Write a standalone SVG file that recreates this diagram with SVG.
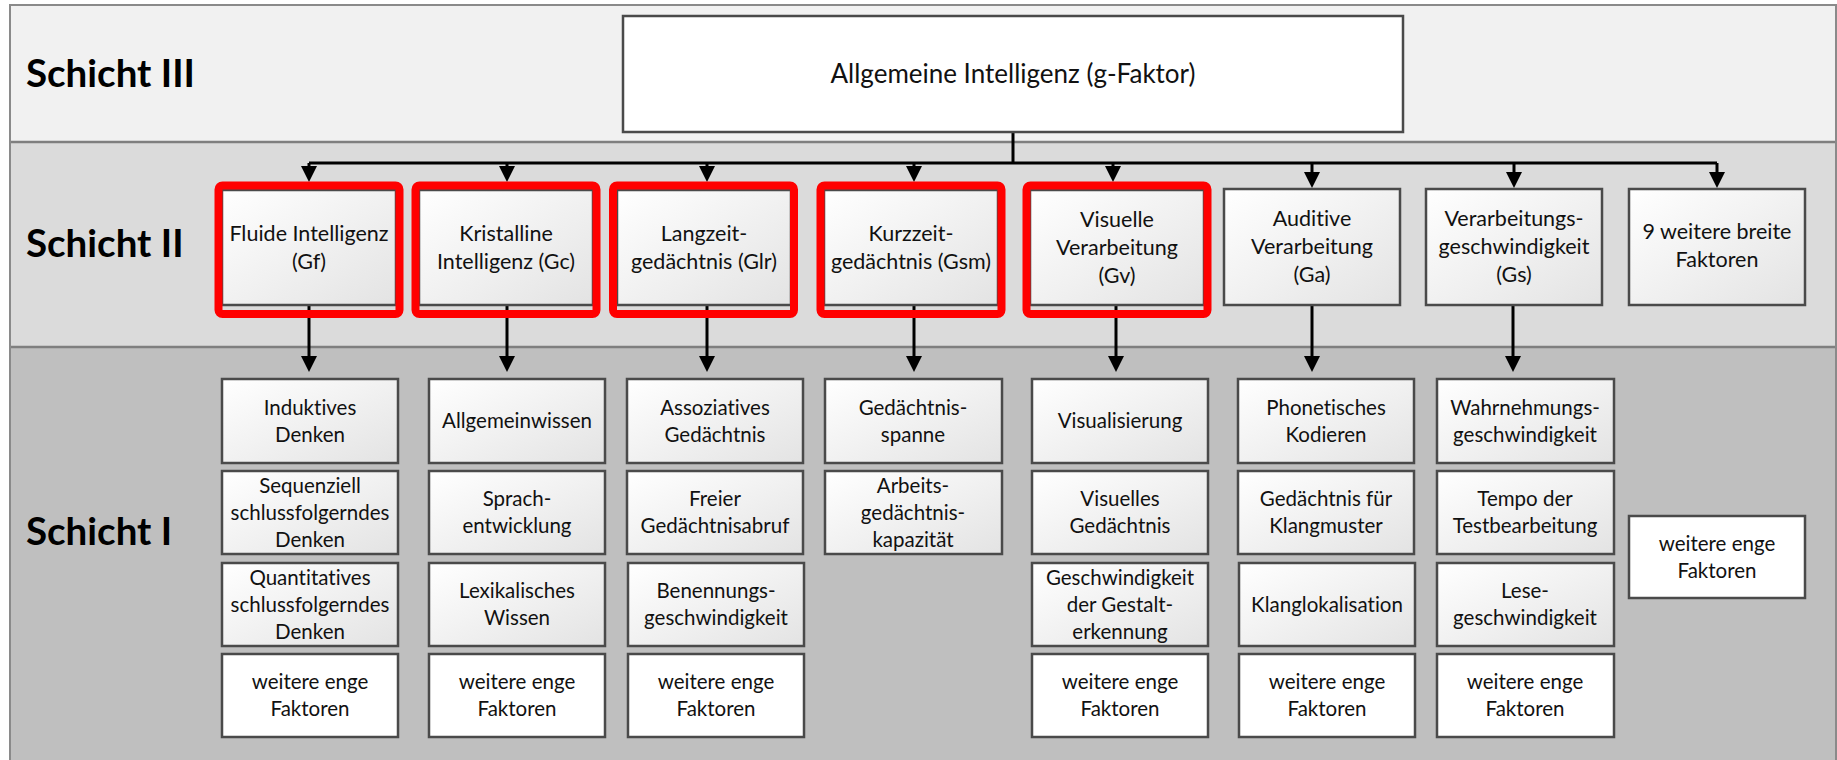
<svg xmlns="http://www.w3.org/2000/svg" width="1837" height="760" viewBox="0 0 1837 760">
<defs>
<style>
text{font-variant-ligatures:none;font-feature-settings:"liga" 0,"dlig" 0}
.lbl{font-family:Lato,"Liberation Sans",sans-serif;font-weight:bold;font-size:38.5px;fill:#000}
.t{font-family:Lato,"Liberation Sans",sans-serif;font-size:20.5px;fill:#111;text-anchor:middle}
.t2{font-family:Lato,"Liberation Sans",sans-serif;font-size:21.5px;fill:#111;text-anchor:middle}
.tt{font-family:Lato,"Liberation Sans",sans-serif;font-size:26px;fill:#111;text-anchor:middle}
.g{fill:url(#grad);stroke:#4a4a4a;stroke-width:2.5}
.w{fill:#fff;stroke:#4a4a4a;stroke-width:2.5}
.red{fill:none;stroke:#ff0000;stroke-width:8}
.c{fill:none;stroke:#000;stroke-width:3}
.a{fill:none;stroke:#000;stroke-width:3;marker-end:url(#arr)}
.sep{stroke:#7f7f7f;stroke-width:2.5}
</style>
<linearGradient id="grad" x1="0" y1="0" x2="1" y2="1">
<stop offset="0" stop-color="#ffffff"/>
<stop offset="1" stop-color="#e3e3e3"/>
</linearGradient>
<marker id="arr" viewBox="0 0 16 16" refX="6" refY="8" markerWidth="16" markerHeight="16" markerUnits="userSpaceOnUse" orient="auto">
<path d="M0,0 L16,8 L0,16 z" fill="#000"/>
</marker>
</defs>

<g id="bands">
<rect x="10" y="5" width="1826" height="137" fill="#f1f1f1"/>
<rect x="10" y="142" width="1826" height="205" fill="#dbdbdb"/>
<rect x="10" y="347" width="1826" height="420" fill="#bfbfbf"/>
<line class="sep" x1="10" y1="142" x2="1836" y2="142"/>
<line class="sep" x1="10" y1="347" x2="1836" y2="347"/>
<rect x="10" y="5" width="1826" height="770" fill="none" stroke="#8a8a8a" stroke-width="2"/>
<text class="lbl" x="26" y="87">Schicht III</text>
<text class="lbl" x="26" y="257">Schicht II</text>
<text class="lbl" x="26" y="545">Schicht I</text>
</g>

<g id="connectors">
<path class="c" d="M1013,132 V163 M309,163 H1717"/>
<path class="a" d="M309,163 V172"/>
<path class="a" d="M507,163 V172"/>
<path class="a" d="M707,163 V172"/>
<path class="a" d="M914,163 V172"/>
<path class="a" d="M1113,163 V172"/>
<path class="a" d="M1312,163 V178"/>
<path class="a" d="M1514,163 V178"/>
<path class="a" d="M1717,163 V178"/>
<path class="a" d="M309,305 V362"/>
<path class="a" d="M507,305 V362"/>
<path class="a" d="M707,305 V362"/>
<path class="a" d="M914,305 V362"/>
<path class="a" d="M1116,305 V362"/>
<path class="a" d="M1312,305 V362"/>
<path class="a" d="M1513,305 V362"/>
</g>

<g id="g-faktor">
<rect class="w" x="623" y="16" width="780" height="116"/>
<text class="tt" x="1013" y="83">Allgemeine Intelligenz (g-Faktor)</text>
</g>

<g id="gf">
<rect class="g" x="222" y="190" width="174" height="115"/>
<rect class="red" x="218.5" y="185.5" width="181" height="128.5" rx="4"/>
<text class="t2"><tspan x="309" y="241">Fluide Intelligenz</tspan><tspan x="309" y="269">(Gf)</tspan></text>
</g>
<g id="gc">
<rect class="g" x="419" y="190" width="174" height="115"/>
<rect class="red" x="415.5" y="185.5" width="181" height="128.5" rx="4"/>
<text class="t2"><tspan x="506" y="241">Kristalline</tspan><tspan x="506" y="269">Intelligenz (Gc)</tspan></text>
</g>
<g id="glr">
<rect class="g" x="617" y="190" width="174" height="115"/>
<rect class="red" x="613" y="185.5" width="181" height="128.5" rx="4"/>
<text class="t2"><tspan x="704" y="241">Langzeit-</tspan><tspan x="704" y="269">gedächtnis (Glr)</tspan></text>
</g>
<g id="gsm">
<rect class="g" x="824" y="190" width="174" height="115"/>
<rect class="red" x="820.5" y="185.5" width="181" height="128.5" rx="4"/>
<text class="t2"><tspan x="911" y="241">Kurzzeit-</tspan><tspan x="911" y="269">gedächtnis (Gsm)</tspan></text>
</g>
<g id="gv">
<rect class="g" x="1030" y="190" width="174" height="115"/>
<rect class="red" x="1026.5" y="185.5" width="181" height="128.5" rx="4"/>
<text class="t2"><tspan x="1117" y="227">Visuelle</tspan><tspan x="1117" y="255">Verarbeitung</tspan><tspan x="1117" y="283">(Gv)</tspan></text>
</g>
<g id="ga">
<rect class="g" x="1224" y="189" width="176" height="116"/>
<text class="t2"><tspan x="1312" y="226">Auditive</tspan><tspan x="1312" y="254">Verarbeitung</tspan><tspan x="1312" y="282">(Ga)</tspan></text>
</g>
<g id="gs">
<rect class="g" x="1426" y="189" width="176" height="116"/>
<text class="t2"><tspan x="1514" y="226">Verarbeitungs-</tspan><tspan x="1514" y="254">geschwindigkeit</tspan><tspan x="1514" y="282">(Gs)</tspan></text>
</g>
<g id="weitere-breit">
<rect class="g" x="1629" y="189" width="176" height="116"/>
<text class="t2"><tspan x="1717" y="239">9 weitere breite</tspan><tspan x="1717" y="267">Faktoren</tspan></text>
</g>

<g id="gf-1"><rect class="g" x="222" y="379" width="176" height="84"/><text class="t"><tspan x="310" y="414.5">Induktives</tspan><tspan x="310" y="441.5">Denken</tspan></text></g>
<g id="gf-2"><rect class="g" x="222" y="471" width="176" height="83"/><text class="t"><tspan x="310" y="492.5">Sequenziell</tspan><tspan x="310" y="519.5">schlussfolgerndes</tspan><tspan x="310" y="546.5">Denken</tspan></text></g>
<g id="gf-3"><rect class="g" x="222" y="563" width="176" height="83"/><text class="t"><tspan x="310" y="584.5">Quantitatives</tspan><tspan x="310" y="611.5">schlussfolgerndes</tspan><tspan x="310" y="638.5">Denken</tspan></text></g>
<g id="gf-4"><rect class="w" x="222" y="654" width="176" height="83"/><text class="t"><tspan x="310" y="689">weitere enge</tspan><tspan x="310" y="716">Faktoren</tspan></text></g>

<g id="gc-1"><rect class="g" x="429" y="379" width="176" height="84"/><text class="t"><tspan x="517" y="428">Allgemeinwissen</tspan></text></g>
<g id="gc-2"><rect class="g" x="429" y="471" width="176" height="83"/><text class="t"><tspan x="517" y="506">Sprach-</tspan><tspan x="517" y="533">entwicklung</tspan></text></g>
<g id="gc-3"><rect class="g" x="429" y="563" width="176" height="83"/><text class="t"><tspan x="517" y="598">Lexikalisches</tspan><tspan x="517" y="625">Wissen</tspan></text></g>
<g id="gc-4"><rect class="w" x="429" y="654" width="176" height="83"/><text class="t"><tspan x="517" y="689">weitere enge</tspan><tspan x="517" y="716">Faktoren</tspan></text></g>

<g id="glr-1"><rect class="g" x="627" y="379" width="176" height="84"/><text class="t"><tspan x="715" y="414.5">Assoziatives</tspan><tspan x="715" y="441.5">Gedächtnis</tspan></text></g>
<g id="glr-2"><rect class="g" x="627" y="471" width="176" height="83"/><text class="t"><tspan x="715" y="506">Freier</tspan><tspan x="715" y="533">Gedächtnisabruf</tspan></text></g>
<g id="glr-3"><rect class="g" x="628" y="563" width="176" height="83"/><text class="t"><tspan x="716" y="598">Benennungs-</tspan><tspan x="716" y="625">geschwindigkeit</tspan></text></g>
<g id="glr-4"><rect class="w" x="628" y="654" width="176" height="83"/><text class="t"><tspan x="716" y="689">weitere enge</tspan><tspan x="716" y="716">Faktoren</tspan></text></g>

<g id="gsm-1"><rect class="g" x="825" y="379" width="177" height="84"/><text class="t"><tspan x="913" y="414.5">Gedächtnis-</tspan><tspan x="913" y="441.5">spanne</tspan></text></g>
<g id="gsm-2"><rect class="g" x="825" y="471" width="177" height="83"/><text class="t"><tspan x="913" y="492.5">Arbeits-</tspan><tspan x="913" y="519.5">gedächtnis-</tspan><tspan x="913" y="546.5">kapazität</tspan></text></g>

<g id="gv-1"><rect class="g" x="1032" y="379" width="176" height="84"/><text class="t"><tspan x="1120" y="428">Visualisierung</tspan></text></g>
<g id="gv-2"><rect class="g" x="1032" y="471" width="176" height="83"/><text class="t"><tspan x="1120" y="506">Visuelles</tspan><tspan x="1120" y="533">Gedächtnis</tspan></text></g>
<g id="gv-3"><rect class="g" x="1032" y="563" width="176" height="83"/><text class="t"><tspan x="1120" y="584.5">Geschwindigkeit</tspan><tspan x="1120" y="611.5">der Gestalt-</tspan><tspan x="1120" y="638.5">erkennung</tspan></text></g>
<g id="gv-4"><rect class="w" x="1032" y="654" width="176" height="83"/><text class="t"><tspan x="1120" y="689">weitere enge</tspan><tspan x="1120" y="716">Faktoren</tspan></text></g>

<g id="ga-1"><rect class="g" x="1238" y="379" width="176" height="84"/><text class="t"><tspan x="1326" y="414.5">Phonetisches</tspan><tspan x="1326" y="441.5">Kodieren</tspan></text></g>
<g id="ga-2"><rect class="g" x="1238" y="471" width="176" height="83"/><text class="t"><tspan x="1326" y="506">Gedächtnis für</tspan><tspan x="1326" y="533">Klangmuster</tspan></text></g>
<g id="ga-3"><rect class="g" x="1239" y="563" width="176" height="83"/><text class="t"><tspan x="1327" y="611.5">Klanglokalisation</tspan></text></g>
<g id="ga-4"><rect class="w" x="1239" y="654" width="176" height="83"/><text class="t"><tspan x="1327" y="689">weitere enge</tspan><tspan x="1327" y="716">Faktoren</tspan></text></g>

<g id="gs-1"><rect class="g" x="1437" y="379" width="177" height="84"/><text class="t"><tspan x="1525" y="414.5">Wahrnehmungs-</tspan><tspan x="1525" y="441.5">geschwindigkeit</tspan></text></g>
<g id="gs-2"><rect class="g" x="1437" y="471" width="177" height="83"/><text class="t"><tspan x="1525" y="506">Tempo der</tspan><tspan x="1525" y="533">Testbearbeitung</tspan></text></g>
<g id="gs-3"><rect class="g" x="1437" y="563" width="177" height="83"/><text class="t"><tspan x="1525" y="598">Lese-</tspan><tspan x="1525" y="625">geschwindigkeit</tspan></text></g>
<g id="gs-4"><rect class="w" x="1437" y="654" width="177" height="83"/><text class="t"><tspan x="1525" y="689">weitere enge</tspan><tspan x="1525" y="716">Faktoren</tspan></text></g>

<g id="weitere-eng"><rect class="w" x="1629" y="516" width="176" height="82"/><text class="t"><tspan x="1717" y="550.5">weitere enge</tspan><tspan x="1717" y="577.5">Faktoren</tspan></text></g>
</svg>
